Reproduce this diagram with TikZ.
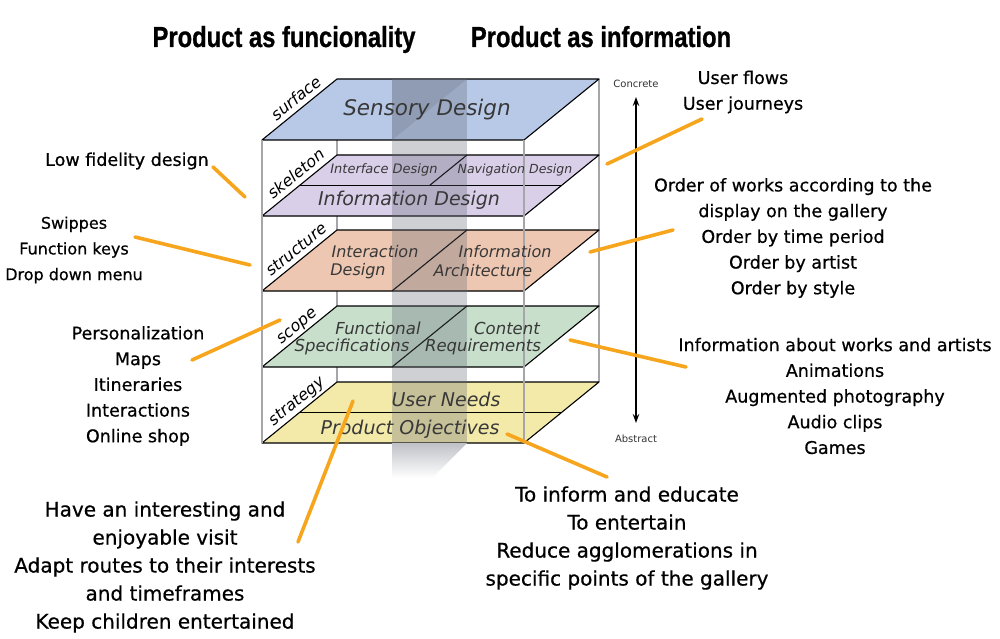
\documentclass[tikz,border=0pt]{standalone}
\usepackage{fontspec}
\setmainfont{DejaVu Sans}
\newfontfamily\headfont{Liberation Sans Bold}[FakeStretch=0.82, FakeBold=0.8]
\newfontfamily\notefont{DejaVu Sans}[FakeBold=0.6]
\usetikzlibrary{arrows.meta}

\definecolor{surfc}{RGB}{184,201,232}
\definecolor{skelc}{RGB}{217,207,233}
\definecolor{strucc}{RGB}{237,199,177}
\definecolor{scopec}{RGB}{199,223,203}
\definecolor{stratc}{RGB}{243,234,170}
\definecolor{wallc}{RGB}{165,165,170}
\definecolor{bandc}{RGB}{95,100,115}
\definecolor{orangeline}{RGB}{247,165,28}

\tikzset{
  plane/.style={draw=black, line width=1.1pt, line join=round},
  split/.style={draw=black, line width=1.1pt},
  wall/.style={draw=wallc, line width=1.3pt},
  title/.style={font=\headfont\fontsize{29}{29}\selectfont, anchor=base, inner sep=0pt},
  note/.style={font=\notefont\fontsize{17.5}{25.7}\selectfont, align=center, inner sep=0pt},
  smallnote/.style={font=\notefont\fontsize{16}{25.7}\selectfont, align=center, inner sep=0pt},
  bignote/.style={font=\notefont\fontsize{20}{28}\selectfont, align=center, inner sep=0pt},
  inlayer/.style={font=\itshape\fontsize{#1}{#1}\selectfont, text=black!78, inner sep=0pt},
  side/.style={font=\itshape\fontsize{16}{16}\selectfont, rotate=39.1, anchor=base, inner sep=0pt},
  scale label/.style={font=\fontsize{10}{10}\selectfont, text=black!80, inner sep=0pt},
  pointer/.style={draw=orangeline, line width=3.6pt, line cap=round},
}

\begin{document}
\begin{tikzpicture}[x=1pt,y=-1pt]
\useasboundingbox (0,0) rectangle (1000,639);
\fill[white] (0,0) rectangle (1000,639);

% headings
\node[title] (hfunc) at (284,47) {Product as funcionality};
\node[title] (hinfo) at (601,47) {Product as information};

% rear uprights of the stack
\draw[wall] (337,79) -- (337,382);
\draw[wall] (599,79) -- (599,382);

% surface plane
\path[plane, fill=surfc] (262,140) -- (524,140) -- (599,79) -- (337,79) -- cycle;
% skeleton plane
\path[plane, fill=skelc] (262,216) -- (524,216) -- (599,155) -- (337,155) -- cycle;
\draw[split] (299.5,185.5) -- (561.5,185.5);
\draw[split] (467,155) -- (429.5,185.5);
% structure plane
\path[plane, fill=strucc] (262,291) -- (524,291) -- (599,230) -- (337,230) -- cycle;
\draw[split] (467,230) -- (392,291);
% scope plane
\path[plane, fill=scopec] (262,367) -- (524,367) -- (599,306) -- (337,306) -- cycle;
\draw[split] (467,306) -- (392,367);
% strategy plane
\path[plane, fill=stratc] (262,443) -- (524,443) -- (599,382) -- (337,382) -- cycle;
\draw[split] (299.5,412.5) -- (561.5,412.5);

% translucent dividing band and its shadow
\fill[bandc, fill opacity=0.3] (392,79) rectangle (467,443);
\fill[bandc, fill opacity=0.2] (392,79) -- (467,79) -- (392,140) -- cycle;
\shade[top color=bandc!40, bottom color=white] (392,443) -- (467,443) -- (432,478) -- (392,478) -- cycle;

% front uprights
\draw[wall] (262,140) -- (262,443);
\draw[wall] (524,140) -- (524,443);

% plane contents
\node[inlayer=21.5] (sensory) at (427,110) {Sensory Design};
\node[inlayer=13] (iface) at (384,170) {Interface Design};
\node[inlayer=12.5] (navi) at (515,170) {Navigation Design};
\node[inlayer=19] (infodes) at (409,200) {Information Design};
\node[inlayer=16] (interA) at (375,252) {Interaction};
\node[inlayer=16] (interB) at (358,271) {Design};
\node[inlayer=16] (iarchA) at (505,252) {Information};
\node[inlayer=16] (iarchB) at (483,271) {Architecture};
\node[inlayer=16.5] (funcA) at (378,328) {Functional};
\node[inlayer=16.5] (funcB) at (352,347) {Specifications};
\node[inlayer=16.5] (contA) at (507,328) {Content};
\node[inlayer=16.5] (contB) at (483,347) {Requirements};
\node[inlayer=19] (needs) at (446,399) {User Needs};
\node[inlayer=19] (objs) at (410,429) {Product Objectives};

% plane names along the left edges
\node[side] (nsurface) at (299.5,102.5) {surface};
\node[side] (nskeleton) at (299.5,178) {skeleton};
\node[side] (nstructure) at (299.5,253.5) {structure};
\node[side] (nscope) at (299.5,329.5) {scope};
\node[side] (nstrategy) at (299.5,405) {strategy};

% concrete / abstract scale
\node[scale label] (conc) at (636,84) {Concrete};
\node[scale label] (abst) at (636,439) {Abstract};
\coordinate (scaletop) at (636,97);
\coordinate (scalebot) at (636,423);
\draw[line width=1.3pt, {Stealth[length=9pt,width=6.5pt]}-{Stealth[length=9pt,width=6.5pt]}] (scaletop) -- (scalebot);

% annotations, left
\node[note] (lofi) at (127,161) {Low fidelity design};
\node[smallnote] (keys) at (74,250) {Swippes\\Function keys\\Drop down menu};
\node[note] (funcs) at (138,386) {Personalization\\Maps\\Itineraries\\Interactions\\Online shop};
\node[bignote] (visit) at (165,567) {Have an interesting and\\enjoyable visit\\Adapt routes to their interests\\and timeframes\\Keep children entertained};

% annotations, right
\node[note] (flows) at (743,92) {User flows\\User journeys};
\node[note] (order) at (793,238) {Order of works according to the\\display on the gallery\\Order by time period\\Order by artist\\Order by style};
\node[note] (content) at (835,396) {Information about works and artists\\Animations\\Augmented photography\\Audio clips\\Games};
\node[bignote] (goals) at (627,538) {To inform and educate\\To entertain\\Reduce agglomerations in\\specific points of the gallery};

% pointer lines
\coordinate (lofiA) at (213,167);   \coordinate (lofiB) at (245,197);
\coordinate (keysA) at (135,237);   \coordinate (keysB) at (250,265);
\coordinate (funcsA) at (192,360);  \coordinate (funcsB) at (280,320);
\coordinate (visitA) at (298,542);  \coordinate (visitB) at (353,401);
\coordinate (goalsA) at (607,477);  \coordinate (goalsB) at (507,434);
\coordinate (flowsA) at (702,119);  \coordinate (flowsB) at (607,164);
\coordinate (orderA) at (673,230);  \coordinate (orderB) at (590,252);
\coordinate (contA1) at (686,367);  \coordinate (contB1) at (570,340);
\draw[pointer] (lofiA) -- (lofiB);
\draw[pointer] (keysA) -- (keysB);
\draw[pointer] (funcsA) -- (funcsB);
\draw[pointer] (visitA) -- (visitB);
\draw[pointer] (goalsA) -- (goalsB);
\draw[pointer] (flowsA) -- (flowsB);
\draw[pointer] (orderA) -- (orderB);
\draw[pointer] (contA1) -- (contB1);
\end{tikzpicture}
\end{document}
